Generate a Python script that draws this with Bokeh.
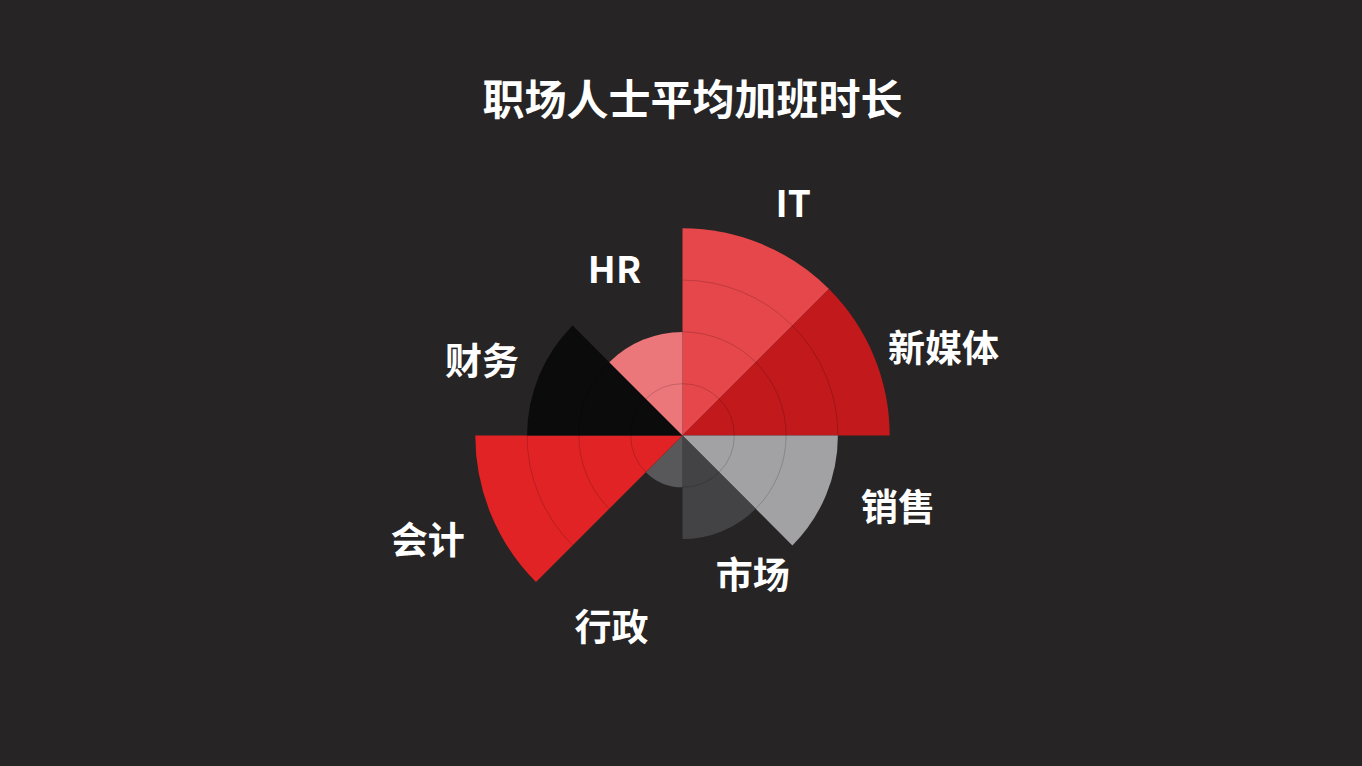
import math

from bokeh.core.properties import value
from bokeh.embed import file_html
from bokeh.models import ColumnDataSource, Range1d
from bokeh.plotting import figure
from bokeh.resources import INLINE

# data
categories = ["IT", "新媒体", "销售", "市场", "行政", "会计", "财务", "HR"]
hours = [4, 4, 3, 2, 1, 4, 3, 2]
grid_rings = [1, 2, 3]

# styles / layout
colors = ["#e6474a", "#c1191c", "#a2a1a4", "#434244",
          "#58575a", "#e12325", "#0b0b0b", "#eb777b"]
label_r = [4.96, 5.31, 4.39, 3.03, 3.97, 5.32, 4.12, 3.46]
label_shift = [-3.0, -4.1, 3.9, 4.1, 2.3, -0.1, 2.4, -0.2]

W, H = 1346, 750
S = 51.8            # pixels per hour
CX, CY = 682, 435   # centre of the rose, px from the plot's top left
BG = "#262424"
FONT = "Noto Sans CJK SC"

step = 360 / len(categories)
start = [90 - step * (i + 1) for i in range(len(categories))]
end = [90 - step * i for i in range(len(categories))]
mid = [(a + b) / 2 + d for a, b, d in zip(start, end, label_shift)]

source = ColumnDataSource(dict(
    cat=categories, hours=hours, color=colors, start=start, end=end,
    lx=[r * math.cos(math.radians(a)) for r, a in zip(label_r, mid)],
    ly=[r * math.sin(math.radians(a)) for r, a in zip(label_r, mid)],
))

# ring pieces that lie inside each sector
rings = dict(r=[], a0=[], a1=[])
for h, a0, a1 in zip(hours, start, end):
    for r in grid_rings:
        if r < h:
            rings["r"].append(r)
            rings["a0"].append(a0)
            rings["a1"].append(a1)

p = figure(width=W, height=H, output_backend="svg", toolbar_location=None,
           x_range=Range1d(-CX / S, (W - CX) / S),
           y_range=Range1d(-(H - CY) / S, CY / S),
           min_border=0, outline_line_color=None)
p.axis.visible = False
p.grid.visible = False
p.background_fill_color = BG
p.border_fill_color = BG

p.wedge(x=0, y=0, radius="hours", start_angle="start", end_angle="end",
        start_angle_units="deg", end_angle_units="deg",
        fill_color="color", line_color=None, source=source)

p.arc(x=0, y=0, radius="r", start_angle="a0", end_angle="a1",
      start_angle_units="deg", end_angle_units="deg",
      line_color="#000000", line_alpha=0.17, line_width=1,
      source=ColumnDataSource(rings))

p.text(x="lx", y="ly", text="cat", source=source, y_offset=-3,
       text_font=value(FONT), text_font_style="bold", text_font_size="37px",
       text_color="white", text_align="center", text_baseline="middle")

p.text(x=[10 / S], y=[(CY - 99) / S], text=["职场人士平均加班时长"], y_offset=-3,
       text_font=value(FONT), text_font_style="bold", text_font_size="42px",
       text_color="white", text_align="center", text_baseline="middle")

tpl = """
{% block postamble %}
<style>html, body { background: #262424; }</style>
{% endblock %}
"""

open("out.html", "w").write(file_html(p, INLINE, template=tpl))
